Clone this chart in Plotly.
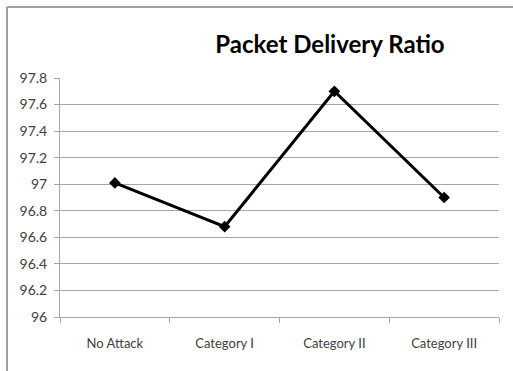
import plotly.graph_objects as go

# Packet delivery ratio (%) under each attack scenario
categories = ["No Attack", "Category I", "Category II", "Category III"]
pdr_values = [97.01, 96.68, 97.70, 96.90]
y_ticks = [96, 96.2, 96.4, 96.6, 96.8, 97, 97.2, 97.4, 97.6, 97.8]
y_tick_text = ["96", "96.2", "96.4", "96.6", "96.8", "97", "97.2", "97.4", "97.6", "97.8"]

W, H = 513, 371
ML, MR, MT, MB = 60, 14, 78, 54
pw, ph = W - ML - MR, H - MT - MB

fig = go.Figure()
fig.add_trace(go.Scatter(
    x=categories, y=pdr_values, mode="lines+markers",
    line=dict(color="black", width=3),
    marker=dict(symbol="diamond", size=9, color="black"),
    showlegend=False,
))

font_family = "Lato, 'Open Sans', sans-serif"
grid_col = "#a6a6a6"

# chart frame: only left and top edges fall inside the window
frame_x = (7 - ML) / pw
frame_y = (H - MB - 7) / ph
fig.add_shape(type="line", xref="paper", yref="paper",
              x0=frame_x, x1=frame_x, y0=-1, y1=frame_y,
              line=dict(color="#a0a0a0", width=2))
fig.add_shape(type="line", xref="paper", yref="paper",
              x0=frame_x, x1=2, y0=frame_y, y1=frame_y,
              line=dict(color="#a0a0a0", width=2))

fig.update_layout(
    width=W, height=H,
    margin=dict(l=ML, r=MR, t=MT, b=MB),
    paper_bgcolor="white", plot_bgcolor="white",
    title=dict(text="<b>Packet Delivery Ratio</b>",
               font=dict(family=font_family, size=24, color="black"),
               x=(330 - ML) / pw, xref="paper", xanchor="center",
               y=1 - 45 / H, yref="container", yanchor="middle"),
    font=dict(family=font_family, size=13, color="#404040"),
    xaxis=dict(
        type="category", range=[-0.5, 3.5],
        showline=True, linecolor=grid_col, linewidth=1,
        ticks="outside", ticklen=5, tickcolor=grid_col, tickson="boundaries",
        showgrid=False, ticklabelstandoff=14,
        tickfont=dict(size=13, color="#404040"),
    ),
    yaxis=dict(
        range=[96, 97.8], tickvals=y_ticks, ticktext=y_tick_text,
        showline=True, linecolor=grid_col, linewidth=1,
        ticks="outside", ticklen=5, tickcolor=grid_col,
        showgrid=True, gridcolor=grid_col, gridwidth=1,
        zeroline=False, ticklabelstandoff=4,
        tickfont=dict(size=14, color="#404040"),
    ),
)

fig.write_html("out.html")
